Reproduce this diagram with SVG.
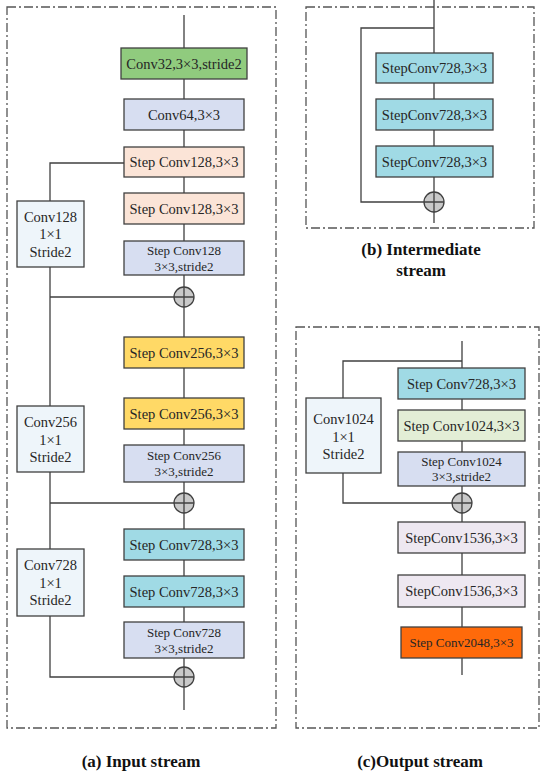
<svg xmlns="http://www.w3.org/2000/svg" width="550" height="777" viewBox="0 0 550 777">
<style>
.frame{fill:none;stroke:#555;stroke-width:1.3;stroke-dasharray:9 3 2 3}
.box{stroke:#404040;stroke-width:1.3}
.ln{fill:none;stroke:#404040;stroke-width:1.3}
.add{fill:#c9c9c9;stroke:#404040;stroke-width:1.3}
.t{font-family:"Liberation Serif","Times New Roman",serif;font-size:14.5px;fill:#262626;text-anchor:middle}
.s{font-size:13px}
.cap{font-family:"Liberation Serif","Times New Roman",serif;font-size:17px;font-weight:bold;fill:#111;text-anchor:middle}
.green{fill:#90CB7E}.lav{fill:#D7DEF1}.peach{fill:#FBE4D7}.yel{fill:#FFD966}.teal{fill:#A0DAE5}.pale{fill:#EEF5FA}.lgreen{fill:#E3EED6}.lil{fill:#EEE8F1}.orange{fill:#FF6A0A}
</style>
<defs>
<g id="plus"><circle r="10" class="add"/><path d="M-10 0H10M0 -10V10" class="ln"/></g>
</defs>

<rect class="frame" x="7" y="7" width="269" height="721"/>
<rect class="frame" x="306" y="7" width="228" height="221"/>
<rect class="frame" x="296" y="327" width="243" height="401"/>

<g id="connectors">
<!-- panel a -->
<path class="ln" d="M184 15V48M184 79V99M184 130V147M184 177V193M184 224V241M184 275V287M184 307V337M184 368V398M184 429V445M184 482V493M184 513V529M184 560V576M184 607V622M184 658V667M184 687V710"/>
<path class="ln" d="M124 163H50V201M50 267V406M50 472V549M50 616V677H174M50 297H174M50 503H174"/>
<!-- panel b -->
<path class="ln" d="M434 0V53M434 83V99M434 130V146M434 177V192M434 212V223M434 28H361V202H424"/>
<!-- panel c -->
<path class="ln" d="M462 341V368M462 399V410M462 441V452M462 486V493M462 513V522M462 553V575M462 607V627M462 658V675"/>
<path class="ln" d="M462 361H343V398M343 473V503H452"/>
</g>

<!-- Panel (a) -->
<g id="a_conv32"><rect class="box green" x="121" y="48" width="126" height="31"/><text class="t" x="184" y="68.5">Conv32,3×3,stride2</text></g>
<g id="a_conv64"><rect class="box lav" x="124" y="99" width="120" height="31"/><text class="t" x="184" y="119.5">Conv64,3×3</text></g>
<g id="a_sc128_1"><rect class="box peach" x="124" y="147" width="120" height="30"/><text class="t" x="184" y="167">Step Conv128,3×3</text></g>
<g id="a_sc128_2"><rect class="box peach" x="124" y="193" width="120" height="31"/><text class="t" x="184" y="213.5">Step Conv128,3×3</text></g>
<g id="a_sc128_3"><rect class="box lav" x="124" y="241" width="120" height="34"/><text class="t s" x="184" y="254.5">Step Conv128</text><text class="t s" x="184" y="270.5">3×3,stride2</text></g>
<g id="a_add1"><use href="#plus" x="184" y="297"/></g>
<g id="a_c128"><rect class="box pale" x="17" y="201" width="67" height="66"/><text class="t" x="50.5" y="222">Conv128</text><text class="t" x="50.5" y="239">1×1</text><text class="t" x="50.5" y="256.5">Stride2</text></g>

<g id="a_sc256_1"><rect class="box yel" x="124" y="337" width="120" height="31"/><text class="t" x="184" y="357.5">Step Conv256,3×3</text></g>
<g id="a_sc256_2"><rect class="box yel" x="124" y="398" width="120" height="31"/><text class="t" x="184" y="418.5">Step Conv256,3×3</text></g>
<g id="a_sc256_3"><rect class="box lav" x="124" y="445" width="120" height="37"/><text class="t s" x="184" y="460">Step Conv256</text><text class="t s" x="184" y="476">3×3,stride2</text></g>
<g id="a_add2"><use href="#plus" x="184" y="503"/></g>
<g id="a_c256"><rect class="box pale" x="17" y="406" width="67" height="66"/><text class="t" x="50.5" y="427">Conv256</text><text class="t" x="50.5" y="444.5">1×1</text><text class="t" x="50.5" y="462">Stride2</text></g>

<g id="a_sc728_1"><rect class="box teal" x="124" y="529" width="120" height="31"/><text class="t" x="184" y="549.5">Step Conv728,3×3</text></g>
<g id="a_sc728_2"><rect class="box teal" x="124" y="576" width="120" height="31"/><text class="t" x="184" y="596.5">Step Conv728,3×3</text></g>
<g id="a_sc728_3"><rect class="box lav" x="124" y="622" width="120" height="36"/><text class="t s" x="184" y="636.5">Step Conv728</text><text class="t s" x="184" y="652.5">3×3,stride2</text></g>
<g id="a_add3"><use href="#plus" x="184" y="677"/></g>
<g id="a_c728"><rect class="box pale" x="17" y="549" width="67" height="67"/><text class="t" x="50.5" y="570">Conv728</text><text class="t" x="50.5" y="587.5">1×1</text><text class="t" x="50.5" y="605">Stride2</text></g>

<text class="cap" x="141" y="767">(a) Input stream</text>

<!-- Panel (b) -->
<g id="b_1"><rect class="box teal" x="376" y="53" width="117" height="30"/><text class="t" x="434.5" y="73">StepConv728,3×3</text></g>
<g id="b_2"><rect class="box teal" x="376" y="99" width="117" height="31"/><text class="t" x="434.5" y="119.5">StepConv728,3×3</text></g>
<g id="b_3"><rect class="box teal" x="376" y="146" width="117" height="31"/><text class="t" x="434.5" y="166.5">StepConv728,3×3</text></g>
<g id="b_add"><use href="#plus" x="434" y="202"/></g>
<text class="cap" x="421" y="255">(b) Intermediate</text>
<text class="cap" x="421" y="276">stream</text>

<!-- Panel (c) -->
<g id="c_sc728"><rect class="box teal" x="398" y="368" width="127" height="31"/><text class="t" x="461.5" y="388.5">Step Conv728,3×3</text></g>
<g id="c_sc1024"><rect class="box lgreen" x="398" y="410" width="127" height="31"/><text class="t" x="461.5" y="430.5">Step Conv1024,3×3</text></g>
<g id="c_sc1024s"><rect class="box lav" x="398" y="452" width="127" height="34"/><text class="t s" x="461.5" y="465.5">Step Conv1024</text><text class="t s" x="461.5" y="481">3×3,stride2</text></g>
<g id="c_add"><use href="#plus" x="462" y="503"/></g>
<g id="c_c1024"><rect class="box pale" x="306" y="398" width="75" height="75"/><text class="t" x="343.5" y="424">Conv1024</text><text class="t" x="343.5" y="441.5">1×1</text><text class="t" x="343.5" y="459">Stride2</text></g>
<g id="c_1536_1"><rect class="box lil" x="398" y="522" width="127" height="31"/><text class="t" x="461.5" y="542.5">StepConv1536,3×3</text></g>
<g id="c_1536_2"><rect class="box lil" x="398" y="575" width="127" height="32"/><text class="t" x="461.5" y="596">StepConv1536,3×3</text></g>
<g id="c_2048"><rect class="box orange" x="401" y="627" width="121" height="31"/><text class="t s" x="461.5" y="647">Step Conv2048,3×3</text></g>
<text class="cap" x="420" y="767">(c)Output stream</text>
</svg>
